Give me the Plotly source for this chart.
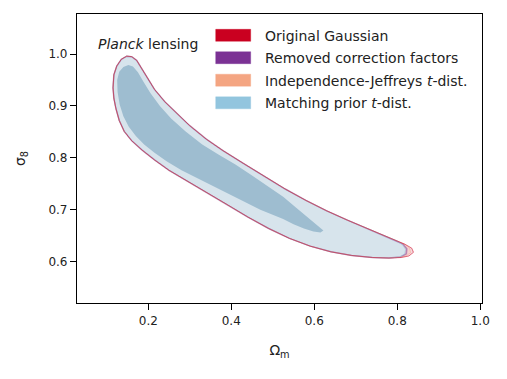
import plotly.graph_objects as go

# ---------------- data ----------------
# Outer (95%) contour, shared body: upper edge left->right, lower edge right->left
OUTER_UPPER_OM = [0.115, 0.117, 0.124, 0.135, 0.148, 0.160, 0.172, 0.182, 0.195, 0.215, 0.240,
                  0.270, 0.300, 0.340, 0.380, 0.430, 0.480, 0.530, 0.580, 0.630, 0.680, 0.730,
                  0.770, 0.800]
OUTER_UPPER_S8 = [0.935, 0.960, 0.977, 0.990, 0.996, 0.995, 0.988, 0.975, 0.958, 0.932, 0.908,
                  0.884, 0.862, 0.836, 0.814, 0.789, 0.764, 0.740, 0.718, 0.698, 0.680, 0.663,
                  0.650, 0.640]
OUTER_LOWER_OM = [0.780, 0.740, 0.690, 0.640, 0.590, 0.540, 0.490, 0.440, 0.390, 0.340, 0.290,
                  0.250, 0.215, 0.185, 0.160, 0.142, 0.130, 0.122, 0.117, 0.115]
OUTER_LOWER_S8 = [0.607, 0.608, 0.612, 0.619, 0.630, 0.645, 0.664, 0.686, 0.710, 0.734, 0.758,
                  0.776, 0.796, 0.815, 0.833, 0.851, 0.872, 0.895, 0.915, 0.935]

# Tail tips of the outer contour, per series
TIP_GAUSS_OM = [0.820, 0.835, 0.839, 0.828, 0.810]
TIP_GAUSS_S8 = [0.633, 0.626, 0.618, 0.611, 0.608]
TIP_REMOVED_OM = [0.814, 0.823, 0.822, 0.808]
TIP_REMOVED_S8 = [0.634, 0.625, 0.615, 0.609]
TIP_JEFF_OM = [0.818, 0.830, 0.832, 0.818]
TIP_JEFF_S8 = [0.634, 0.626, 0.617, 0.610]
TIP_MATCH_OM = [0.812, 0.820, 0.818, 0.805]
TIP_MATCH_S8 = [0.633, 0.624, 0.615, 0.609]

# Inner (68%) contour
INNER_OM = [0.125, 0.130, 0.140, 0.152, 0.163, 0.175, 0.188, 0.205, 0.228, 0.255, 0.290, 0.330,
            0.370, 0.410, 0.450, 0.490, 0.525, 0.555, 0.580, 0.600, 0.615, 0.622,
            0.615, 0.598, 0.575, 0.550, 0.525, 0.500, 0.470, 0.440, 0.400, 0.360, 0.320,
            0.280, 0.245, 0.215, 0.190, 0.170, 0.153, 0.140, 0.131, 0.126, 0.125]
INNER_S8 = [0.950, 0.966, 0.975, 0.979, 0.976, 0.965, 0.947, 0.925, 0.900, 0.876, 0.851, 0.826,
            0.806, 0.787, 0.766, 0.745, 0.725, 0.705, 0.688, 0.674, 0.665, 0.660,
            0.656, 0.658, 0.664, 0.672, 0.682, 0.690, 0.700, 0.712, 0.728, 0.745, 0.760,
            0.776, 0.793, 0.810, 0.826, 0.842, 0.860, 0.880, 0.903, 0.927, 0.950]

SERIES = ["Original Gaussian", "Removed correction factors",
          "Independence-Jeffreys <i>t</i>-dist.", "Matching prior <i>t</i>-dist."]
TIPS_OM = [TIP_GAUSS_OM, TIP_REMOVED_OM, TIP_JEFF_OM, TIP_MATCH_OM]
TIPS_S8 = [TIP_GAUSS_S8, TIP_REMOVED_S8, TIP_JEFF_S8, TIP_MATCH_S8]

X_TICKS = [0.2, 0.4, 0.6, 0.8, 1.0]
Y_TICKS = [0.6, 0.7, 0.8, 0.9, 1.0]

# ---------------- styles ----------------
COLORS = [(202, 0, 32), (123, 50, 148), (244, 165, 130), (146, 197, 222)]
LINE_ALPHA = [0.55, 0.45, 0.45, 0.5]
LINE_W = [1.0, 1.5, 1.0, 1.0]
OUTER_FILL_TOP = "#d7e4ec"
INNER_FILL_TOP = "#9ebdd0"

W, H = 507, 379
L, R, T, B = 77, 482, 14, 303


def rgba(c, a):
    return f"rgba({c[0]},{c[1]},{c[2]},{a})"


fig = go.Figure()

outer_x, outer_y = [], []
for tom, ts8 in zip(TIPS_OM, TIPS_S8):
    outer_x.append(OUTER_UPPER_OM + tom + OUTER_LOWER_OM)
    outer_y.append(OUTER_UPPER_S8 + ts8 + OUTER_LOWER_S8)

# fills (bottom layers first, matching prior on top)
for i, name in enumerate(SERIES):
    last = i == len(SERIES) - 1
    fig.add_trace(go.Scatter(
        x=outer_x[i], y=outer_y[i], mode="lines", fill="toself",
        fillcolor=OUTER_FILL_TOP if last else rgba(COLORS[i], 0.15),
        line=dict(width=0), hoverinfo="skip", showlegend=False, name=name))
    fig.add_trace(go.Scatter(
        x=INNER_OM, y=INNER_S8, mode="lines", fill="toself",
        fillcolor=INNER_FILL_TOP if last else rgba(COLORS[i], 0.15),
        line=dict(width=0), hoverinfo="skip", showlegend=False, name=name))

# contour outlines on top
for i in [1, 2, 3, 0]:
    fig.add_trace(go.Scatter(
        x=outer_x[i], y=outer_y[i], mode="lines",
        line=dict(color=rgba(COLORS[i], LINE_ALPHA[i]), width=LINE_W[i]),
        hoverinfo="skip", showlegend=False))


def px_x(p):
    return (p - L) / (R - L)


def px_y(p):
    return (B - p) / (B - T)


ROW_Y = [35.3, 57.7, 80.2, 102.8]
shapes = []
annotations = []
for i, name in enumerate(SERIES):
    shapes.append(dict(type="rect", xref="paper", yref="paper",
                       x0=px_x(215.7), x1=px_x(250.7),
                       y0=px_y(ROW_Y[i] + 6), y1=px_y(ROW_Y[i] - 6),
                       fillcolor=rgba(COLORS[i], 1),
                       line=dict(width=0.6, color=rgba(COLORS[i], 0.6))))
    annotations.append(dict(xref="paper", yref="paper", x=px_x(263), y=px_y(ROW_Y[i] + 0.5),
                            text=name, showarrow=False, xanchor="left", yanchor="middle",
                            font=dict(family="DejaVu Sans", size=14, color="#222")))

annotations.append(dict(xref="paper", yref="paper", x=px_x(96), y=px_y(43.5),
                        text="<i>Planck</i> lensing", showarrow=False,
                        xanchor="left", yanchor="middle",
                        font=dict(family="DejaVu Sans", size=14, color="#222")))

fig.update_layout(
    width=W, height=H,
    margin=dict(l=L, r=W - R, t=T, b=H - B),
    paper_bgcolor="white", plot_bgcolor="white",
    shapes=shapes, annotations=annotations,
    showlegend=False,
    font=dict(family="DejaVu Sans", size=12, color="#222"),
)
fig.update_xaxes(range=[0.0282, 1.0042], tickvals=X_TICKS, ticktext=[f"{v:.1f}" for v in X_TICKS],
                 ticks="outside", ticklen=6, tickwidth=1.2, tickcolor="black",
                 showline=True, linecolor="black", linewidth=1.2, mirror=True,
                 showgrid=False, zeroline=False,
                 title=dict(text="Ω<sub>m</sub>", font=dict(size=14), standoff=18),
                 tickfont=dict(size=12))
fig.update_yaxes(range=[0.5204, 1.0772], tickvals=Y_TICKS, ticktext=[f"{v:.1f}" for v in Y_TICKS],
                 ticks="outside", ticklen=6, tickwidth=1.2, tickcolor="black",
                 showline=True, linecolor="black", linewidth=1.2, mirror=True,
                 showgrid=False, zeroline=False,
                 title=dict(text="σ<sub>8</sub>", font=dict(size=14), standoff=19),
                 tickfont=dict(size=12))

fig.write_html("out.html", config={"displayModeBar": False},
               post_script="document.body.style.margin='0px';")
